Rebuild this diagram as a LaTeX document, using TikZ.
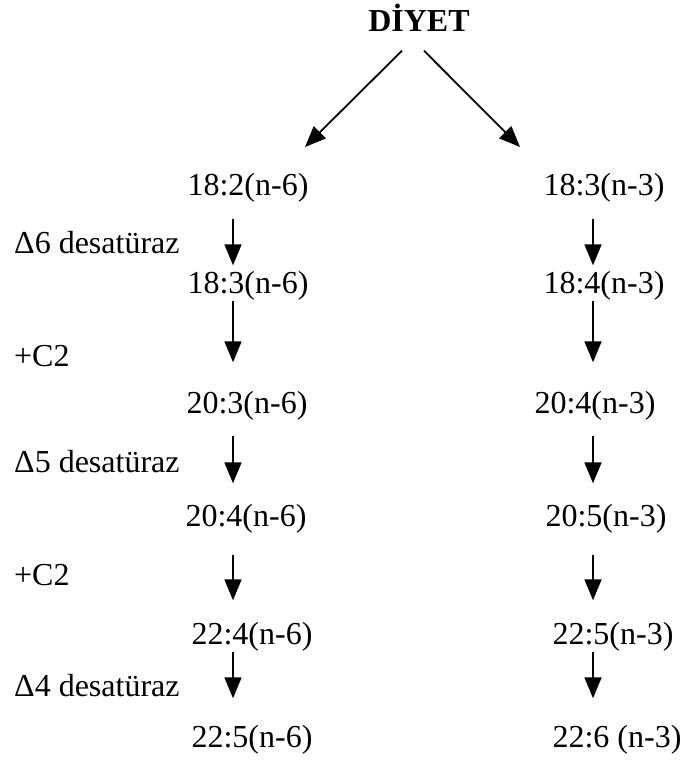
\documentclass[tikz,border=0pt]{standalone}
\usepackage{fontspec}
\setmainfont{Liberation Serif}
\usetikzlibrary{arrows.meta}

\begin{document}
\begin{tikzpicture}[x=1pt, y=-1pt,
  every node/.style={font=\fontsize{32}{38}\selectfont, inner sep=0pt, text height=22pt, text depth=7pt},
  arr/.style={-{Triangle[width=17pt,length=21pt]}, line width=1.8pt}]
  \useasboundingbox (0,0) rectangle (683,760);
  % Title
  \node[font=\fontsize{32}{38}\selectfont\bfseries] (diyet) at (419,24) {DİYET};
  % n-6 series
  \node (a1) at (248,188) {18:2(n-6)};
  \node (a2) at (248,286) {18:3(n-6)};
  \node (a3) at (247,406) {20:3(n-6)};
  \node (a4) at (246,519) {20:4(n-6)};
  \node (a5) at (252,637) {22:4(n-6)};
  \node (a6) at (252,740) {22:5(n-6)};
  % n-3 series
  \node (b1) at (604,188) {18:3(n-3)};
  \node (b2) at (604,286) {18:4(n-3)};
  \node (b3) at (595,406) {20:4(n-3)};
  \node (b4) at (606,519) {20:5(n-3)};
  \node (b5) at (613,637) {22:5(n-3)};
  \node (b6) at (617,740) {22:6 (n-3)};
  % Enzymes
  \node[anchor=west] (e1) at (14,246) {Δ6 desatüraz};
  \node[anchor=west] (e2) at (14,359) {+C2};
  \node[anchor=west] (e3) at (14,465) {Δ5 desatüraz};
  \node[anchor=west] (e4) at (14,578) {+C2};
  \node[anchor=west] (e5) at (14,689) {Δ4 desatüraz};
  % Arrows
  \coordinate (lx) at (233,0);
  \coordinate (rx) at (593,0);
  \coordinate (ltip) at (305,147);
  \coordinate (rtip) at (520,147);
  \draw[arr] ([xshift=-17pt,yshift=-12pt]diyet.south) -- (ltip);
  \draw[arr] ([xshift=5pt,yshift=-12pt]diyet.south) -- (rtip);
  \draw[arr, shorten <=16pt, shorten >=6pt] (a1.south -| lx) -- (a2.north -| lx);
  \draw[arr, shorten <=0pt, shorten >=29pt] (a2.south -| lx) -- (a3.north -| lx);
  \draw[arr, shorten <=15pt, shorten >=21pt] (a3.south -| lx) -- (a4.north -| lx);
  \draw[arr, shorten <=21pt, shorten >=22pt] (a4.south -| lx) -- (a5.north -| lx);
  \draw[arr, shorten <=0pt, shorten >=27pt] (a5.south -| lx) -- (a6.north -| lx);
  \draw[arr, shorten <=16pt, shorten >=6pt] (b1.south -| rx) -- (b2.north -| rx);
  \draw[arr, shorten <=0pt, shorten >=29pt] (b2.south -| rx) -- (b3.north -| rx);
  \draw[arr, shorten <=15pt, shorten >=21pt] (b3.south -| rx) -- (b4.north -| rx);
  \draw[arr, shorten <=21pt, shorten >=22pt] (b4.south -| rx) -- (b5.north -| rx);
  \draw[arr, shorten <=0pt, shorten >=27pt] (b5.south -| rx) -- (b6.north -| rx);
\end{tikzpicture}
\end{document}
